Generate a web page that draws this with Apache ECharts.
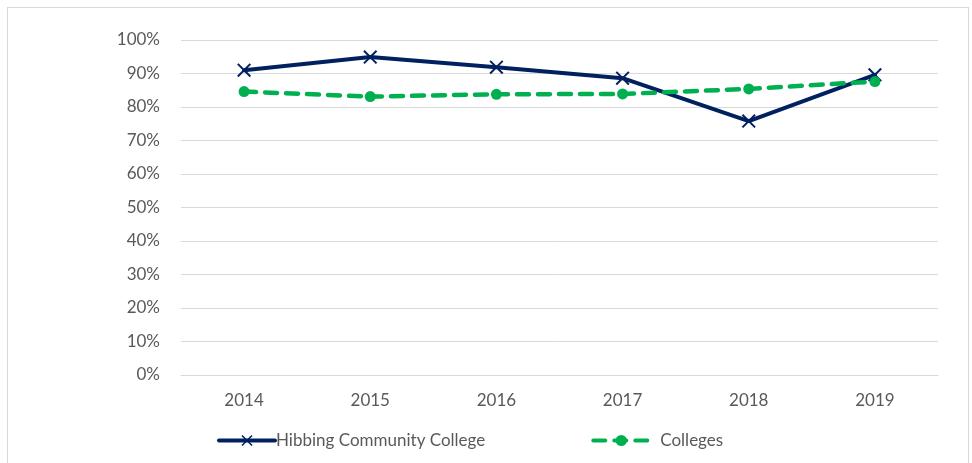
<!DOCTYPE html>
<html>
<head>
  <meta charset="UTF-8">
  <title>Hibbing Community College vs Colleges</title>
  <style>
    html, body { margin: 0; padding: 0; background: #fff; }
    #frame {
      position: absolute; left: 7px; top: 7px;
      width: 962px; height: 460px;
      border: 1px solid #d9d9d9; border-bottom: none;
      box-sizing: border-box;
    }
    #chart { position: absolute; left: 0; top: 0; width: 972px; height: 463px; }
  </style>
  <script src="https://cdn.jsdelivr.net/npm/echarts@6/dist/echarts.min.js"></script>
</head>
<body>
  <div id="frame"></div>
  <div id="chart"></div>
  <script>
    var years = ['2014', '2015', '2016', '2017', '2018', '2019'];
    var hibbing = [91.0, 94.9, 91.9, 88.6, 75.8, 89.6];
    var colleges = [84.6, 83.1, 83.8, 83.9, 85.4, 87.6];

    var myChart = echarts.init(document.getElementById('chart'));
    var txt = '#595959';
    var font = 'Lato, "Liberation Sans", sans-serif';

    // X marker drawn as two thin filled bars
    var xMark = 'path://M0,1L1,0L10,9L9,10Z M9,0L10,1L1,10L0,9Z';

    var option = {
      backgroundColor: 'transparent',
      animation: false,
      grid: { left: 181, right: 34, top: 40, bottom: 88 },
      legend: {
        bottom: 9,
        left: 212,
        itemWidth: 56,
        itemHeight: 14,
        itemGap: 106,
        lineStyle: { width: 4 },
        textStyle: { color: txt, fontSize: 17, fontFamily: font, padding: [0, 0, 0, -4] },
        data: [
          { name: 'Hibbing Community College' },
          { name: 'Colleges', textStyle: { padding: [0, 0, 0, 6] } }
        ]
      },
      xAxis: {
        type: 'category',
        data: years,
        boundaryGap: true,
        axisLine: { lineStyle: { color: '#d9d9d9', width: 1 } },
        axisTick: { show: false },
        axisLabel: { color: txt, fontSize: 17, fontFamily: font, margin: 17 }
      },
      yAxis: {
        type: 'value',
        min: 0, max: 100, interval: 10,
        axisLine: { show: false },
        axisTick: { show: false },
        splitLine: { lineStyle: { color: '#d9d9d9', width: 1 } },
        axisLabel: { color: txt, fontSize: 17, fontFamily: font, margin: 21, formatter: '{value}%' }
      },
      series: [
        {
          name: 'Hibbing Community College',
          type: 'line',
          data: hibbing,
          symbol: xMark,
          symbolSize: 14,
          itemStyle: { color: '#002060' },
          lineStyle: { color: '#002060', width: 4, cap: 'round', join: 'round' },
          z: 2
        },
        {
          name: 'Colleges',
          type: 'line',
          data: colleges,
          symbol: 'circle',
          symbolSize: 11,
          itemStyle: { color: '#00b050' },
          lineStyle: { color: '#00b050', width: 4.5, type: [12, 9], cap: 'round' },
          z: 3
        }
      ]
    };
    myChart.setOption(option);
  </script>
</body>
</html>
